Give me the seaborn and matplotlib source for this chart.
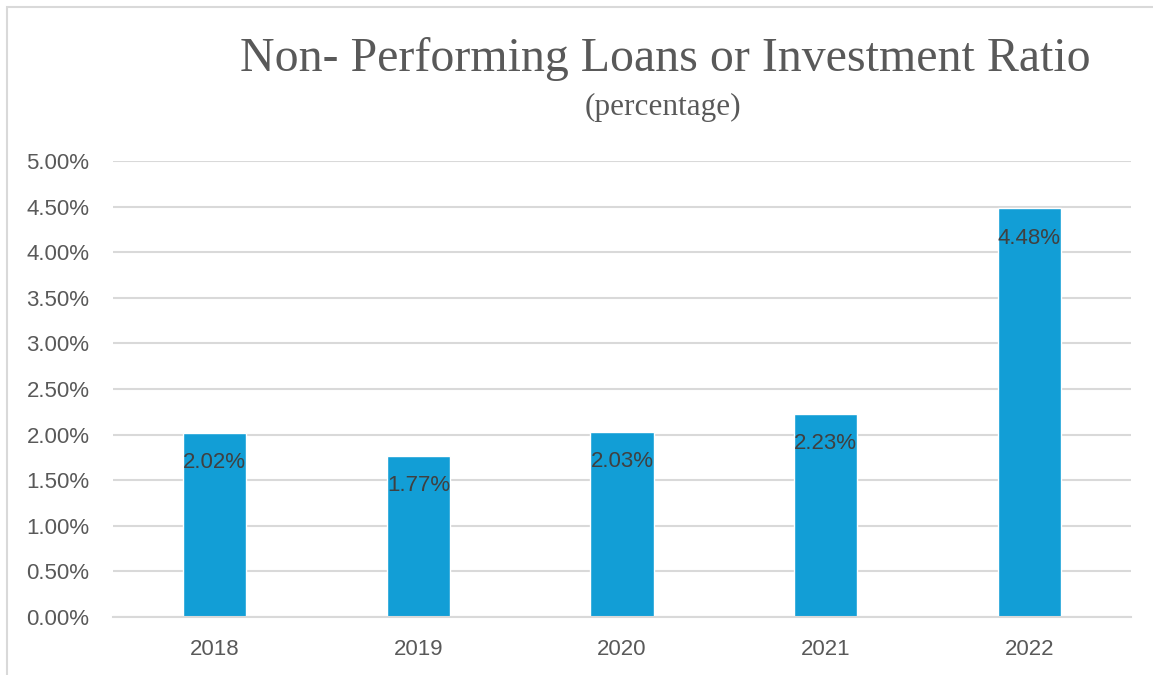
import matplotlib
matplotlib.use("Agg")
import matplotlib.pyplot as plt
import seaborn as sns
import pandas as pd
from matplotlib.ticker import PercentFormatter
from matplotlib.patches import Rectangle

years = ["2018", "2019", "2020", "2021", "2022"]
ratios = [0.0202, 0.0177, 0.0203, 0.0223, 0.0448]
value_labels = ["2.02%", "1.77%", "2.03%", "2.23%", "4.48%"]
title = "Non- Performing Loans or Investment Ratio"
subtitle = "(percentage)"

sns.set_theme(style="white")
plt.rcParams["font.family"] = ["Liberation Sans", "DejaVu Sans"]

df = pd.DataFrame({"year": years, "ratio": ratios})

fig = plt.figure(figsize=(11.53, 6.75), dpi=100)
ax = fig.add_axes([113/1153, 1-617/675, (1131-113)/1153, (617-161)/675])

sns.barplot(data=df, x="year", y="ratio", color="#129ED6", saturation=1,
            width=0.31, ax=ax)

ax.set_ylim(0, 0.05)
ax.set_yticks([i*0.005 for i in range(11)])
ax.yaxis.set_major_formatter(PercentFormatter(xmax=1, decimals=2))
ax.set_xlim(-0.5, len(years)-0.5)
ax.grid(axis="y", color="#d9d9d9", linewidth=1.5)
ax.set_axisbelow(True)
for s in ["left", "right", "top"]:
    ax.spines[s].set_visible(False)
ax.spines["bottom"].set_color("#d9d9d9")
ax.spines["bottom"].set_linewidth(1.5)
ax.set_xlabel("")
ax.set_ylabel("")
ax.tick_params(axis="y", length=0, pad=17, labelsize=16, labelcolor="#595959")
ax.tick_params(axis="x", length=0, pad=16, labelsize=16, labelcolor="#595959")

ax.bar_label(ax.containers[0], labels=value_labels, padding=-29,
             fontsize=16, color="#404040")

fig.text(665/1153, 1-59/675, title, ha="center", va="center",
         fontsize=34.5, color="#595959", family=["Liberation Serif"])
fig.text(663/1153, 1-107/675, subtitle, ha="center", va="center",
         fontsize=22.5, color="#595959", family=["Liberation Serif"])

fig.patches.append(Rectangle((7/1153, -0.1), 1.2, 1-7/675+0.1,
                             transform=fig.transFigure, fill=False,
                             edgecolor="#d9d9d9", linewidth=1.5))

fig.savefig("out.png", dpi=100, facecolor="white")
